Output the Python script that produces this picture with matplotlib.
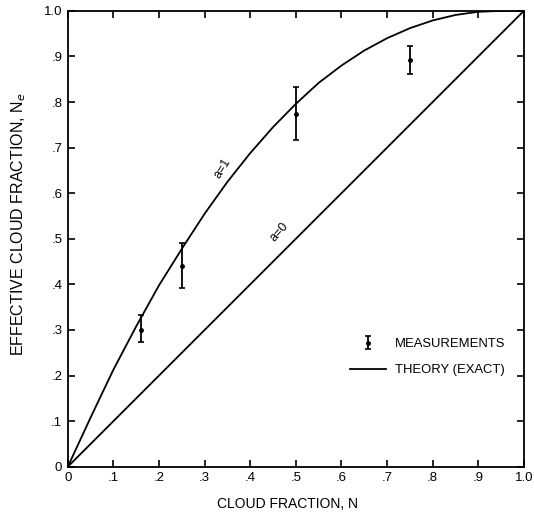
# effective cloud fraction vs cloud fraction
import matplotlib
matplotlib.use('Agg')
from matplotlib import pyplot as plt

plt.rcParams['font.family'] = ['Liberation Sans', 'DejaVu Sans']

# theory curves
n_a1 = [0, 0.05, 0.1, 0.15, 0.2, 0.25, 0.3, 0.35, 0.4, 0.45, 0.5, 0.55, 0.6, 0.65, 0.7, 0.75, 0.8, 0.85, 0.9, 0.95, 1.0]
ne_a1 = [0, 0.108, 0.213, 0.308, 0.398, 0.478, 0.555, 0.625, 0.688, 0.745, 0.796, 0.842, 0.880, 0.913, 0.940, 0.962, 0.979, 0.991, 0.998, 1.0, 1.0]
n_a0 = [0, 1.0]
ne_a0 = [0, 1.0]

# measurements
n_med = [0.16, 0.25, 0.50, 0.75]
ne_med = [0.30, 0.44, 0.773, 0.893]
ne_sup = [0.333, 0.491, 0.832, 0.923]
ne_inf = [0.273, 0.393, 0.716, 0.862]

ticks = [0, 0.1, 0.2, 0.3, 0.4, 0.5, 0.6, 0.7, 0.8, 0.9, 1.0]
rotulos = ['0', '.1', '.2', '.3', '.4', '.5', '.6', '.7', '.8', '.9', '1.0']

fig = plt.figure(figsize=(5.34, 5.18), dpi=100)
ax = fig.add_axes([0.127, 0.099, 0.854, 0.880])

linha, = ax.plot(n_a1, ne_a1, c='black', linewidth=1.3)
ax.plot(n_a0, ne_a0, c='black', linewidth=1.3)

erro_baixo = [m - i for m, i in zip(ne_med, ne_inf)]
erro_cima = [s - m for m, s in zip(ne_med, ne_sup)]
barras = ax.errorbar(n_med, ne_med, yerr=[erro_baixo, erro_cima], fmt='o', c='black',
                     markersize=2.5, elinewidth=1.3, capsize=2.5, capthick=1.2)

ax.text(0.340, 0.655, 'a=1', rotation=58, ha='center', va='center', fontsize=9)
ax.text(0.465, 0.514, 'a=0', rotation=48, ha='center', va='center', fontsize=9)

ax.set_xlim(0, 1)
ax.set_ylim(0, 1)
ax.set_xticks(ticks)
ax.set_yticks(ticks)
ax.set_xticklabels(rotulos)
ax.set_yticklabels(rotulos)
ax.tick_params(axis='both', which='major', direction='in', length=5, width=1.2,
               top=True, right=True, labelsize=9.5, pad=4)
for lado in ax.spines.values():
    lado.set_linewidth(1.3)

ax.set_xlabel('CLOUD FRACTION, N', fontsize=10)
ax.xaxis.set_label_coords(0.481, -0.066)
ax.set_ylabel('EFFECTIVE CLOUD FRACTION, N$_e$', fontsize=11.5)
ax.yaxis.set_label_coords(-0.088, 0.532)

ax.legend([barras, linha], ['MEASUREMENTS', 'THEORY (EXACT)'], frameon=False,
          loc='center left', bbox_to_anchor=(0.594, 0.24), fontsize=9.4,
          handlelength=2.7, labelspacing=1.05, handletextpad=0.7)

plt.savefig('out.png', dpi=100)
